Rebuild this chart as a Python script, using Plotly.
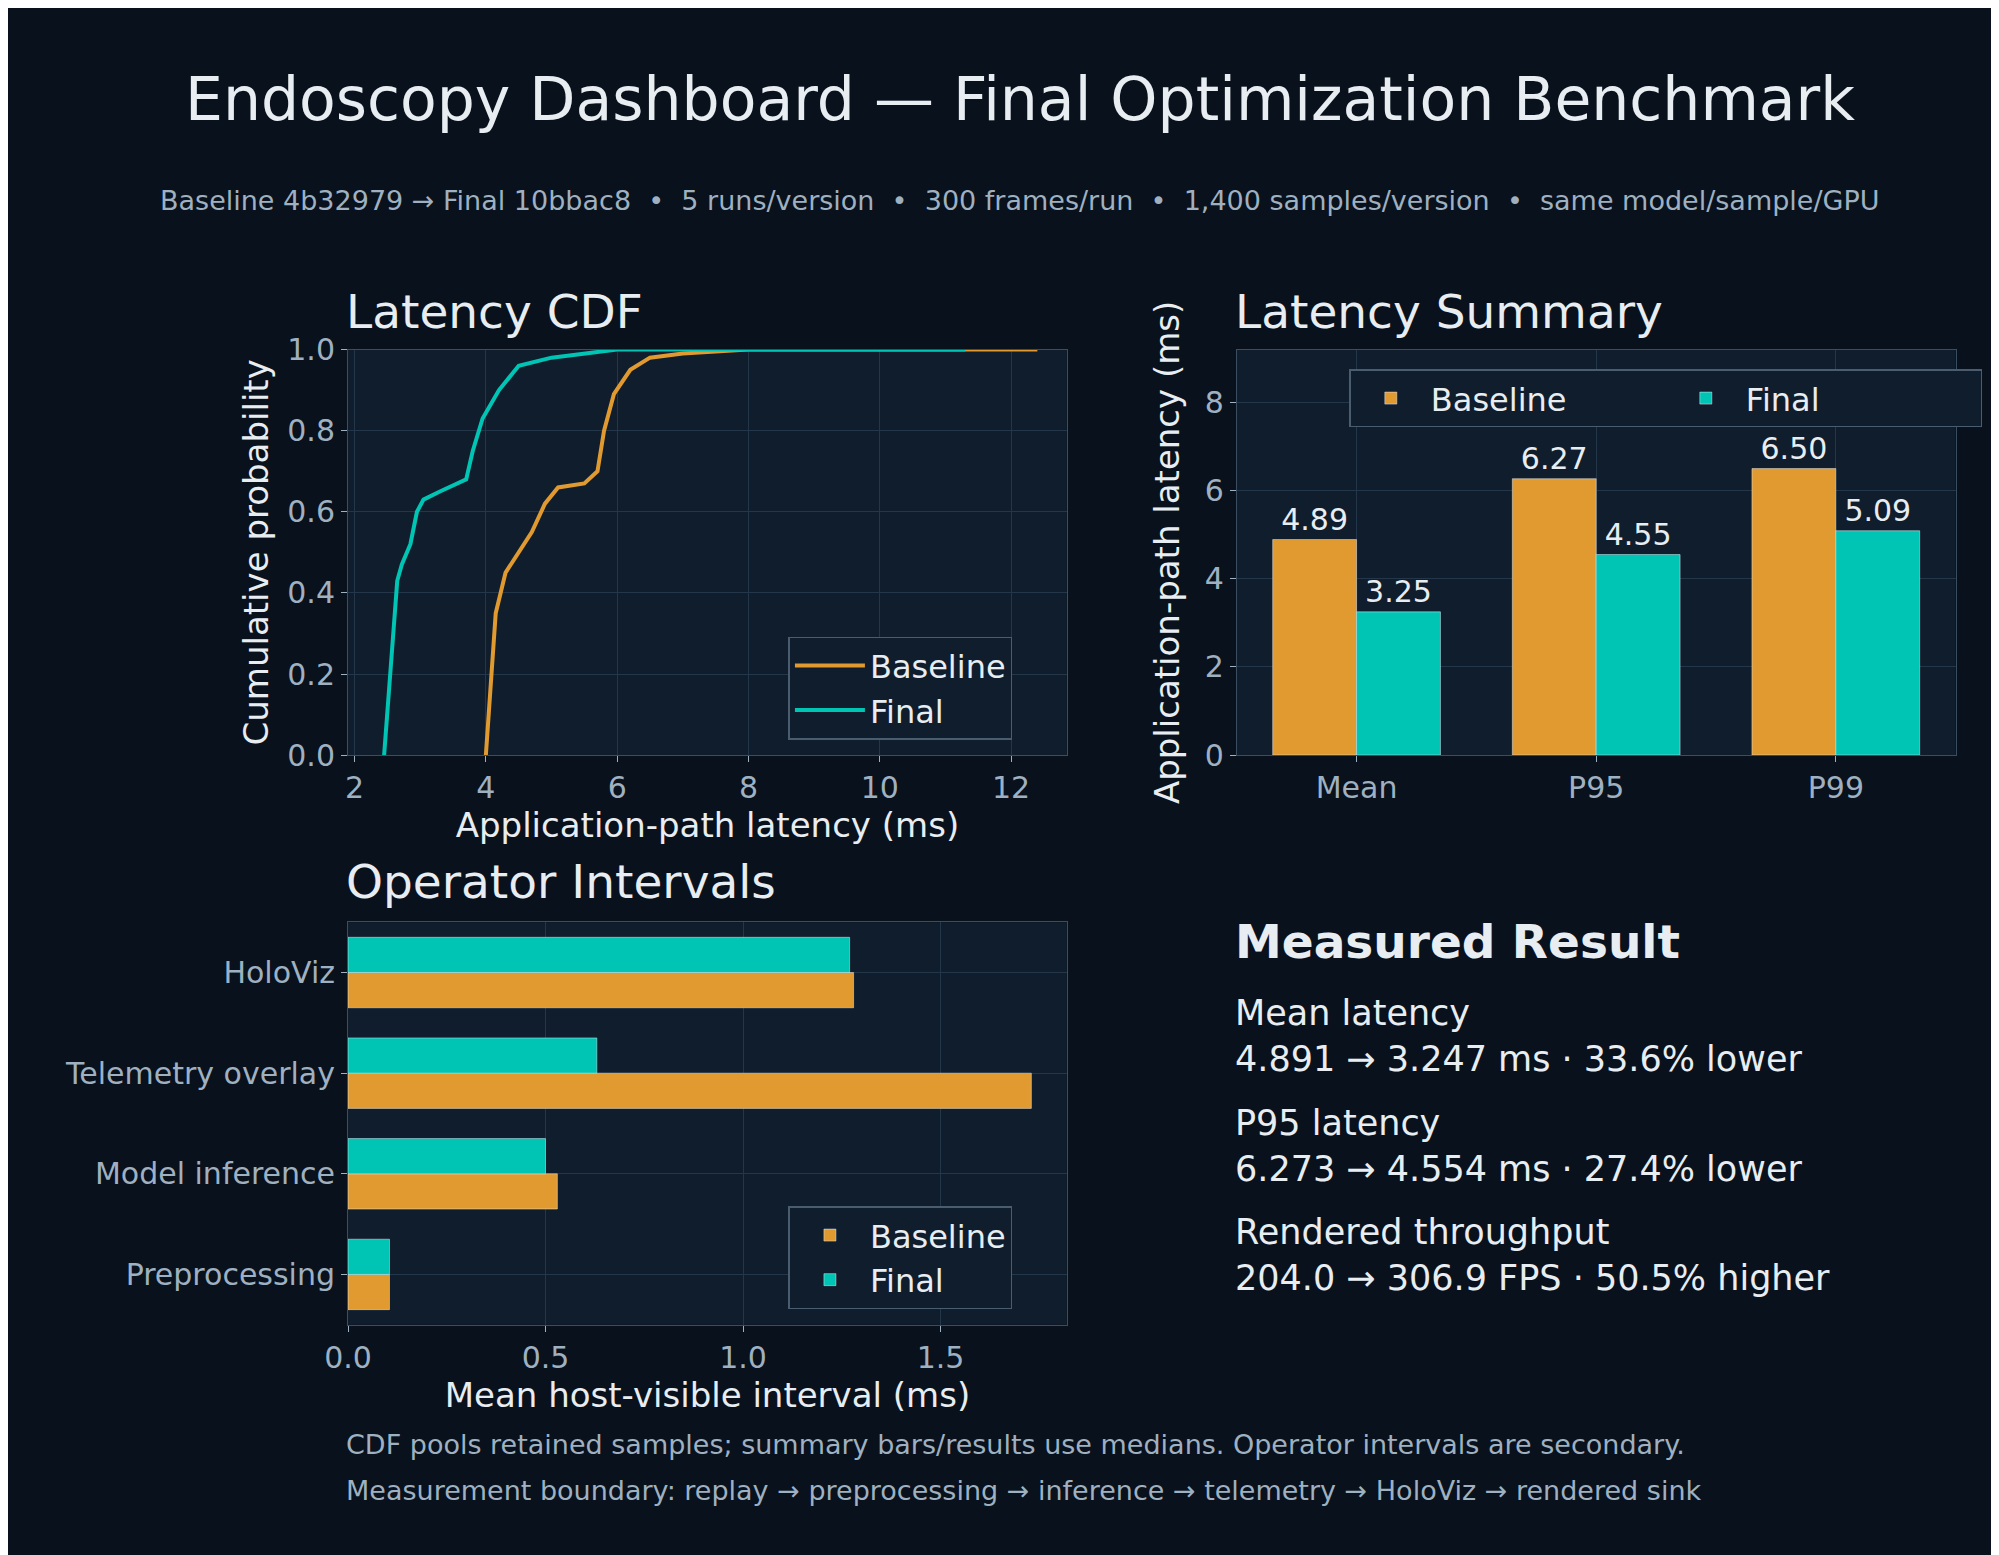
import plotly.graph_objects as go

# data
base_lat = [4.0, 4.08, 4.15, 4.3, 4.5, 4.7, 4.9, 5.1, 5.5, 5.7, 5.8, 5.95, 6.2, 6.5, 7.0, 8.0, 12.4]
base_cdf = [0.0, 0.2, 0.35, 0.45, 0.5, 0.55, 0.62, 0.66, 0.67, 0.7, 0.8, 0.89, 0.95, 0.98, 0.99, 1.0, 1.0]
final_lat = [2.45, 2.55, 2.65, 2.72, 2.85, 2.95, 3.05, 3.3, 3.7, 3.8, 3.95, 4.2, 4.5, 5.0, 6.0, 11.3]
final_cdf = [0.0, 0.2, 0.43, 0.47, 0.52, 0.6, 0.63, 0.65, 0.68, 0.75, 0.83, 0.9, 0.96, 0.98, 1.0, 1.0]

stats = ["Mean", "P95", "P99"]
base_stats = [4.89, 6.27, 6.50]
final_stats = [3.25, 4.55, 5.09]

operators = ["Preprocessing", "Model inference", "Telemetry overlay", "HoloViz"]
base_ops = [0.105, 0.53, 1.73, 1.28]
final_ops = [0.105, 0.50, 0.63, 1.27]

ORANGE = "#e09a2f"
TEAL = "#00c4b4"
BG = "#08111c"
PLOT = "#0f1d2c"
GRID = "#24364a"
TXT = "#e8edf2"
MUTED = "#9fb0c0"
FONT = "DejaVu Sans"

fig = go.Figure()

fig.add_trace(go.Scatter(x=base_lat, y=base_cdf, mode="lines", name="Baseline",
                         line=dict(color=ORANGE, width=4), xaxis="x", yaxis="y", legend="legend"))
fig.add_trace(go.Scatter(x=final_lat, y=final_cdf, mode="lines", name="Final",
                         line=dict(color=TEAL, width=4), xaxis="x", yaxis="y", legend="legend"))

fig.add_trace(go.Bar(x=stats, y=base_stats, name="Baseline", marker_color=ORANGE,
                     text=[f"{v:.2f}" for v in base_stats], textposition="outside",
                     textfont=dict(color=TXT, size=30), cliponaxis=False,
                     xaxis="x2", yaxis="y2", legend="legend2"))
fig.add_trace(go.Bar(x=stats, y=final_stats, name="Final", marker_color=TEAL,
                     text=[f"{v:.2f}" for v in final_stats], textposition="outside",
                     textfont=dict(color=TXT, size=30), cliponaxis=False,
                     xaxis="x2", yaxis="y2", legend="legend2"))

fig.add_trace(go.Bar(y=operators, x=base_ops, name="Baseline", orientation="h", marker_color=ORANGE,
                     xaxis="x3", yaxis="y3", legend="legend3"))
fig.add_trace(go.Bar(y=operators, x=final_ops, name="Final", orientation="h", marker_color=TEAL,
                     xaxis="x3", yaxis="y3", legend="legend3"))

ax = dict(gridcolor=GRID, linecolor="#3a4d61", mirror=True, showline=True, zeroline=False,
          tickfont=dict(size=30, color=MUTED), ticks="outside", tickcolor=MUTED, ticklen=6,
          title_font=dict(size=34, color=TXT))
leg = dict(bgcolor=PLOT, bordercolor="#4a5d70", borderwidth=1.5, itemwidth=70,
           font=dict(size=32, color=TXT), xanchor="left", yanchor="top")

fig.update_layout(
    width=1999, height=1555, paper_bgcolor=BG, plot_bgcolor=PLOT,
    margin=dict(l=0, r=0, t=0, b=0), font=dict(family=FONT, color=TXT),
    barmode="group", bargap=0.3, bargroupgap=0,
    xaxis=dict(ax, domain=[0.160, 0.524], anchor="y", range=[1.9, 12.85],
               tickvals=[2, 4, 6, 8, 10, 12], title=dict(text="Application-path latency (ms)", standoff=8)),
    yaxis=dict(ax, domain=[0.520, 0.787], anchor="x", range=[0, 1.0],
               tickvals=[0, 0.2, 0.4, 0.6, 0.8, 1.0], tickformat=".1f",
               title=dict(text="Cumulative probability", standoff=8)),
    xaxis2=dict(ax, domain=[0.610, 0.974], anchor="y2", showgrid=True),
    yaxis2=dict(ax, domain=[0.520, 0.787], anchor="x2", range=[0, 9.2],
                tickvals=[0, 2, 4, 6, 8], title=dict(text="Application-path latency (ms)", standoff=14)),
    xaxis3=dict(ax, domain=[0.160, 0.524], anchor="y3", range=[0, 1.82],
                tickvals=[0, 0.5, 1.0, 1.5], tickformat=".1f",
                title=dict(text="Mean host-visible interval (ms)", standoff=8)),
    yaxis3=dict(ax, domain=[0.145, 0.410], anchor="x3", categoryorder="array",
                categoryarray=operators),
    legend=dict(leg, x=0.383, y=0.598),
    legend2=dict(leg, x=0.667, y=0.774, orientation="h", entrywidth=230),
    legend3=dict(leg, x=0.383, y=0.223),
)

def note(text, x, y, size, color=TXT, anchor="left"):
    fig.add_annotation(text=text, x=x, y=y, xref="paper", yref="paper", showarrow=False,
                       xanchor=anchor, yanchor="middle", align="left",
                       font=dict(size=size, color=color, family=FONT))

note("Endoscopy Dashboard — Final Optimization Benchmark", 0.5, 0.952, 60, anchor="center")
note("Baseline 4b32979 → Final 10bbac8  •  5 runs/version  •  300 frames/run  •  1,400 samples/version  •  same model/sample/GPU",
     0.5, 0.885, 27, MUTED, anchor="center")
note("Latency CDF", 0.158, 0.812, 47)
note("Latency Summary", 0.608, 0.812, 47)
note("Operator Intervals", 0.158, 0.437, 47)
note("<b>Measured Result</b>", 0.608, 0.397, 47)
note("Mean latency<br>4.891 → 3.247 ms · 33.6% lower", 0.608, 0.335, 35)
note("P95 latency<br>6.273 → 4.554 ms · 27.4% lower", 0.608, 0.263, 35)
note("Rendered throughput<br>204.0 → 306.9 FPS · 50.5% higher", 0.608, 0.191, 35)
note("CDF pools retained samples; summary bars/results use medians. Operator intervals are secondary.",
     0.158, 0.066, 27, MUTED)
note("Measurement boundary: replay → preprocessing → inference → telemetry → HoloViz → rendered sink",
     0.158, 0.036, 27, MUTED)

fig.write_html("out.html")
